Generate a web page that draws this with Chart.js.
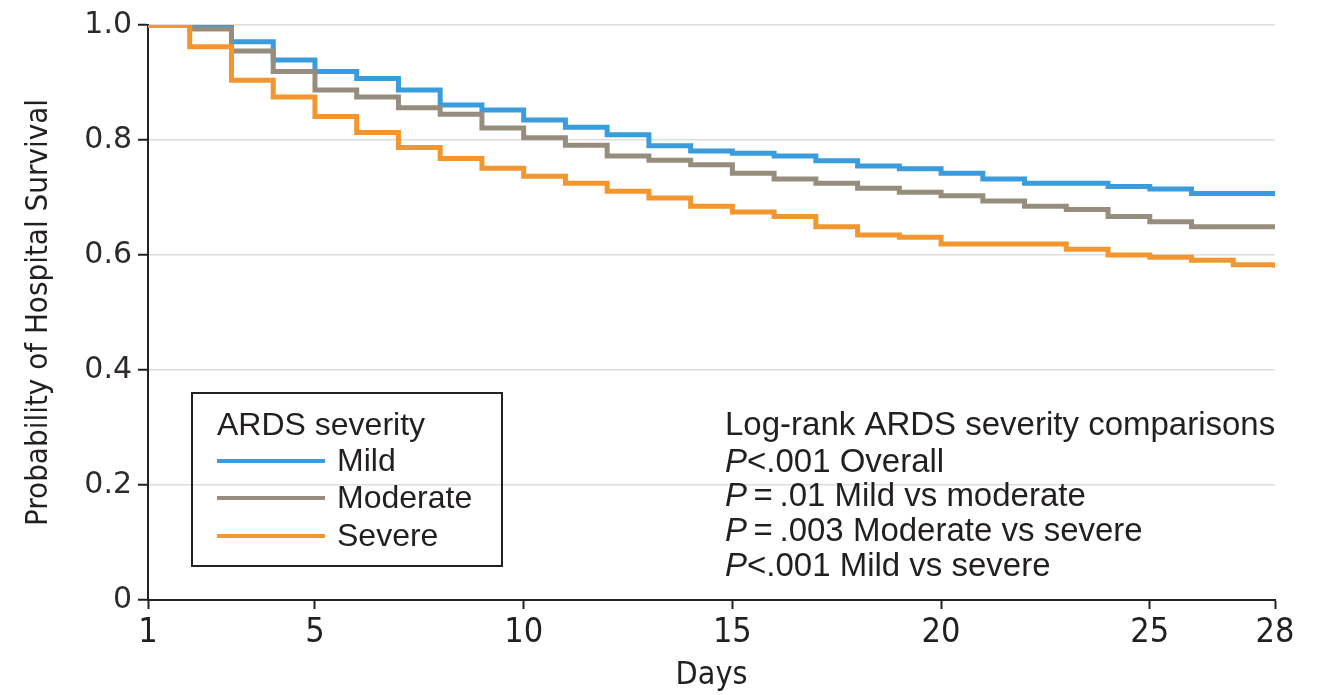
<!DOCTYPE html>
<html>
<head>
<meta charset="utf-8">
<script src="https://cdn.jsdelivr.net/npm/chart.js@4"></script>
<style>
    html, body { margin: 0; padding: 0; background: #fff; }
    #wrap { width: 1320px; height: 695px; }
</style>
</head>
<body>
<div id="wrap"><canvas id="km-chart" width="1320" height="695"></canvas></div>
<script>
// Kaplan-Meier survival by ARDS severity (value from each day onward)
const days = [1, 2, 3, 4, 5, 6, 7, 8, 9, 10, 11, 12, 13, 14, 15, 16, 17, 18, 19, 20, 21, 22, 23, 24, 25, 26, 27, 28];
const mild = [1.0, 1.0, 0.971, 0.939, 0.919, 0.907, 0.887, 0.861, 0.852, 0.835, 0.822, 0.809, 0.790, 0.781,
    0.777, 0.772, 0.764, 0.755, 0.750, 0.742, 0.732, 0.725, 0.725, 0.719, 0.715, 0.707, 0.707, 0.707];
const moderate = [1.0, 0.993, 0.955, 0.919, 0.887, 0.875, 0.856, 0.845, 0.821, 0.804, 0.791, 0.772, 0.765, 0.757,
    0.742, 0.732, 0.725, 0.716, 0.709, 0.703, 0.694, 0.685, 0.679, 0.667, 0.658, 0.649, 0.649, 0.649];
const severe = [1.0, 0.962, 0.904, 0.875, 0.841, 0.813, 0.787, 0.768, 0.751, 0.737, 0.725, 0.711, 0.699, 0.685,
    0.675, 0.667, 0.649, 0.635, 0.631, 0.619, 0.619, 0.619, 0.610, 0.600, 0.596, 0.591, 0.583, 0.578];

const xTicks = [1, 5, 10, 15, 20, 25, 28];
const yTicks = [0, 0.2, 0.4, 0.6, 0.8, 1.0];

const seriesNames = ['Mild', 'Moderate', 'Severe'];
const seriesColors = ['#3a9cdc', '#968d7e', '#f3962f'];
const legendTitle = 'ARDS severity';
const pvalueLines = [
    ['', 'Log-rank ARDS severity comparisons'],
    ['P', '<.001 Overall'],
    ['P', '\u2009=\u2009.01 Mild vs moderate'],
    ['P', '\u2009=\u2009.003 Moderate vs severe'],
    ['P', '<.001 Mild vs severe']
];

const TEXT = '#231f20';
const FONT = "'Liberation Sans', Arial, sans-serif";
const NARROW = "'Liberation Sans Narrow', 'DejaVu Sans Condensed', sans-serif";

function toPoints(values) {
    return days.map((d, i) => ({ x: d, y: values[i] }));
}

// Legend box and the log-rank note, drawn inside the plot
const notesPlugin = {
    id: 'notes',
    afterDraw(chart) {
        const ctx = chart.ctx;
        const area = chart.chartArea;
        ctx.save();

        // legend frame
        const bx = area.left + 44, by = area.top + 368, bw = 310, bh = 173;
        ctx.strokeStyle = '#222';
        ctx.lineWidth = 2;
        ctx.strokeRect(bx, by, bw, bh);

        ctx.fillStyle = TEXT;
        ctx.font = '32px ' + FONT;
        ctx.textBaseline = 'middle';
        ctx.textAlign = 'left';
        ctx.fillText(legendTitle, bx + 25, by + 33);

        const rowY = [68, 105, 143];
        seriesNames.forEach((name, i) => {
            const y = by + rowY[i];
            ctx.strokeStyle = seriesColors[i];
            ctx.lineWidth = 4;
            ctx.beginPath();
            ctx.moveTo(bx + 25, y);
            ctx.lineTo(bx + 133, y);
            ctx.stroke();
            ctx.fillStyle = TEXT;
            ctx.fillText(name, bx + 145, y + 1);
        });

        // p-values
        const tx = area.left + 577;
        const lineY = [401, 438, 472, 507, 542];
        pvalueLines.forEach((parts, i) => {
            const y = area.top + lineY[i];
            let x = tx;
            if (parts[0]) {
                ctx.font = 'italic 33px ' + FONT;
                ctx.fillText(parts[0], x, y);
                x += ctx.measureText(parts[0]).width;
            }
            ctx.font = '33px ' + FONT;
            ctx.fillText(parts[1], x, y);
        });

        ctx.restore();
    }
};

const datasets = [mild, moderate, severe].map((values, i) => ({
    label: seriesNames[i],
    data: toPoints(values),
    borderColor: seriesColors[i],
    backgroundColor: seriesColors[i],
    borderWidth: 5,
    stepped: 'before',
    pointRadius: 0,
    fill: false,
    order: 3 - i
}));

new Chart(document.getElementById('km-chart'), {
    type: 'line',
    data: { datasets: datasets },
    plugins: [notesPlugin],
    options: {
        responsive: false,
        animation: false,
        layout: { padding: { top: 25, right: 45, bottom: 0, left: 0 } },
        plugins: {
            legend: { display: false },
            tooltip: { enabled: false }
        },
        scales: {
            x: {
                type: 'linear',
                min: 1,
                max: 28,
                afterBuildTicks: scale => { scale.ticks = xTicks.map(v => ({ value: v })); },
                afterFit: scale => { scale.height = 95; },
                grid: { drawOnChartArea: false, tickColor: '#222', tickLength: 9, tickWidth: 2 },
                border: { color: '#222', width: 2 },
                ticks: { color: TEXT, font: { family: NARROW, size: 34 }, padding: 4, maxRotation: 0 },
                title: { display: true, text: 'Days', color: TEXT, font: { family: NARROW, size: 32 }, padding: { top: 0, bottom: 0 } }
            },
            y: {
                min: 0,
                max: 1,
                afterBuildTicks: scale => { scale.ticks = yTicks.map(v => ({ value: v })); },
                afterFit: scale => { scale.width = 148; },
                grid: { color: '#dddddd', lineWidth: 1.5, tickColor: '#222', tickLength: 10, tickWidth: 2 },
                border: { color: '#222', width: 2 },
                ticks: {
                    color: '#2e2a2b',
                    font: { family: "'DejaVu Sans', sans-serif", size: 30 },
                    padding: 6,
                    callback: v => (v === 0 ? '0' : v.toFixed(1))
                },
                title: {
                    display: true,
                    text: 'Probability of Hospital Survival',
                    color: TEXT,
                    font: { family: NARROW, size: 31 },
                    padding: { top: 20, bottom: 0 }
                }
            }
        }
    }
});
</script>
</body>
</html>
